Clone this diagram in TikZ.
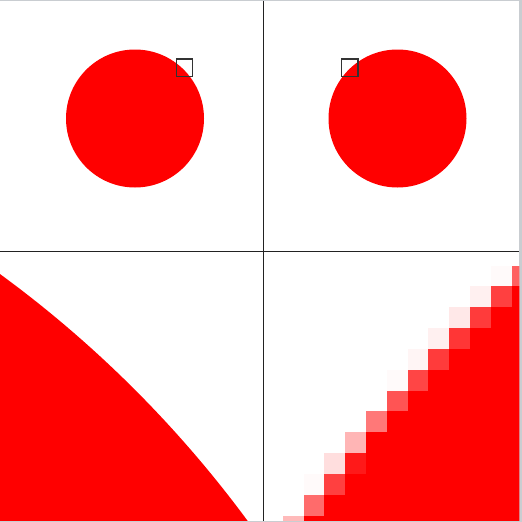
\documentclass[tikz,border=0pt]{standalone}
\usepackage{tikz}
\usetikzlibrary{calc}

\definecolor{frame}{HTML}{C9CDD1}
\definecolor{rule}{HTML}{222222}
\definecolor{boxline}{HTML}{333333}

\begin{document}
\begin{tikzpicture}[x=1pt,y=-1pt]
\useasboundingbox (0,0) rectangle (522,522);
\fill[frame] (0,0) rectangle (522,522);
\fill[white] (0,0.7) rectangle (519.3,520.7);

% top panels
\fill[red] (135,118.5) circle (69);
\fill[red] (397.5,118.5) circle (69);
\draw[boxline,line width=1.2] (176.3,59) rectangle (192.7,76.7);
\draw[boxline,line width=1.2] (341.3,59) rectangle (358,76.7);

% bottom left: smooth edge
\begin{scope}
\clip (0,252.3) rectangle (263.2,520.7);
\fill[red] (-678.7,1202.5) circle (1150);
\end{scope}

% bottom right: pixels
\begin{scope}
\clip (264.4,252.3) rectangle (519.3,520.7);
\foreach \j/\k in {1/11,2/10,3/9,4/8,5/7,6/6,7/5,8/4,9/4,10/3,11/2,12/1}
  \fill[red] (282.8+20.8*\k,265.5+20.85*\j) rectangle (530,265.5+20.85*\j+20.85);
\foreach \j/\k/\p in {0/10/2,0/11/62,1/9/6,1/10/75,2/8/9,2/9/77,3/7/6,3/8/79,
  4/6/4,4/7/77,5/5/2,5/6/73,6/5/67,7/4/53,8/3/29,9/2/13,9/3/90,
  10/1/2,10/2/75,11/1/58,12/0/27}
  \fill[red!\p!white] (282.8+20.8*\k,265.5+20.85*\j) rectangle (282.8+20.8*\k+20.8,265.5+20.85*\j+20.85);
\end{scope}

\draw[rule,line width=1.3] (263.8,0.7) -- (263.8,520.7);
\draw[rule,line width=1.3] (0,251.8) -- (519.3,251.8);

\end{tikzpicture}
\end{document}
